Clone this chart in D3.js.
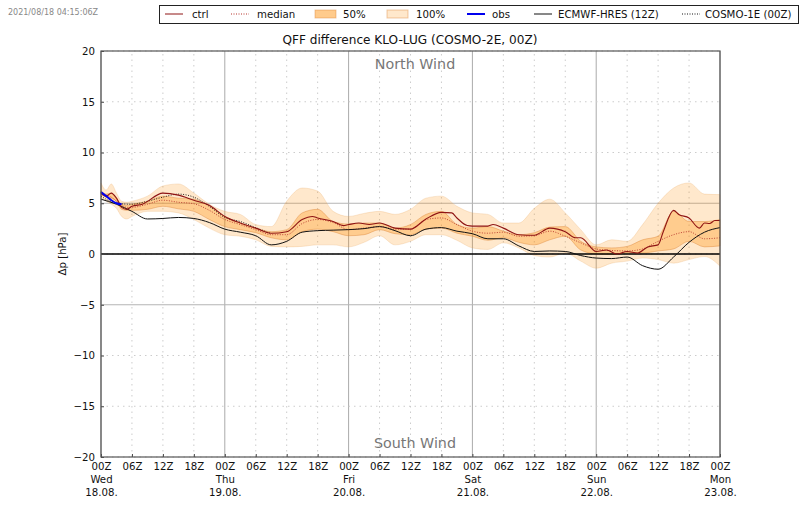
<!DOCTYPE html>
<html>
<head>
<meta charset="utf-8">
<script src="https://cdn.jsdelivr.net/npm/d3@7"></script>
<style>
  html,body{margin:0;padding:0;background:#fff;}
  svg{display:block;}
  text{font-family:"DejaVu Sans",sans-serif;fill:#111;}
</style>
</head>
<body>
<div id="chart"></div>
<script>
// forecast hours since 18.08. 00Z
var hours = [0,1,2,3,4,5,6,9,12,15,18,21,24,27,30,33,36,39,42,45,48,51,54,57,60,63,66,69,72,75,78,81,84,87,90,93,96,99,102,105,108,111,114,117,120];
var upper100 = [7.0,6.3,6.9,6.0,5.2,5.1,5.2,5.7,6.7,6.9,6.0,4.9,4.2,3.9,2.9,2.7,5.2,6.5,6.2,4.2,3.7,4.0,4.2,3.9,4.4,5.5,5.7,4.7,4.05,3.9,3.05,3.05,4.5,5.4,4.05,2.4,0.9,1.4,1.25,2.9,5.0,6.5,7.0,5.9,5.85];
var lower100 = [5.5,5.2,4.9,4.5,3.7,3.45,3.7,4.2,4.2,4.05,3.4,2.55,1.9,1.75,1.4,0.75,0.7,0.75,0.9,0.9,0.7,1.15,1.8,0.9,1.25,1.9,1.9,1.35,0.6,0.45,1.1,0.6,-0.15,-0.3,0.1,-0.7,-1.4,-0.9,-0.7,-0.4,-0.55,-0.9,-0.55,-0.25,-1.2];
var upper50 = [6.2,5.9,6.0,5.5,4.9,4.8,4.9,5.2,5.7,5.5,5.4,4.7,3.7,3.05,2.55,2.2,2.4,4.05,4.4,3.2,2.95,3.05,3.05,2.55,2.9,3.9,4.2,2.9,2.55,2.7,2.25,1.9,2.1,2.65,2.7,1.25,0.7,0.6,0.75,1.4,1.75,4.2,3.2,3.2,3.4];
var lower50 = [5.85,5.6,5.5,5.2,4.4,4.3,4.3,4.4,4.7,4.45,4.2,3.4,2.7,2.4,2.1,1.6,1.4,2.2,2.45,2.2,1.8,1.9,2.4,2.0,1.9,2.45,2.55,2.05,1.75,1.35,1.6,1.15,0.9,1.4,1.75,0.4,0.0,-0.05,0.1,0.1,0.3,0.5,1.25,0.7,0.8];
var median = [5.9,5.8,5.6,5.2,4.8,4.6,4.6,4.9,5.3,5.1,4.95,4.3,3.4,2.9,2.4,1.9,1.9,3.0,3.4,3.1,2.4,2.55,2.7,2.45,2.45,3.4,3.55,2.9,2.25,2.05,2.15,1.75,1.8,2.25,1.75,1.1,0.5,0.35,0.3,0.5,1.25,1.9,2.2,1.5,1.6];
var ctrlHours = [0,1,2,3,4,5,6,8,12,15,18,21,24,27,30,33,36,39,41,42,45,47,48,50,52,54,57,60,63,66,68,69,71,72,75,76,78,81,84,87,90,92,93,96,98,100,102,104,106,108,109,111,112,114,116,117,118,119,120];
var ctrl = [6.0,5.7,6.0,5.5,4.6,4.4,4.7,4.9,6.0,5.8,5.3,4.8,3.7,3.05,2.55,2.05,2.2,3.4,3.7,3.55,3.2,2.8,2.9,3.05,2.9,3.05,2.55,2.45,3.45,4.1,4.05,3.55,2.8,2.75,2.75,2.9,2.55,1.9,1.85,2.55,2.2,1.6,1.6,0.25,0.4,0,0.25,0.1,0.7,0.9,2.2,4.3,3.9,3.55,2.55,3.05,3.0,3.3,3.3];
var ecmwfHours = [0,3,6,9,12,15,18,21,24,27,30,33,36,39,42,45,48,51,54,57,60,63,66,69,72,75,78,81,84,87,90,93,96,99,102,105,108,111,114,117,120];
var ecmwf = [5.4,4.9,4.2,3.45,3.5,3.6,3.5,3.1,2.45,2.15,1.8,0.9,1.25,2.15,2.3,2.35,2.4,2.5,2.7,2.3,1.8,2.45,2.6,2.25,2.0,1.5,1.5,0.8,0.25,0.3,0.25,-0.15,-0.4,-0.45,-0.3,-1.15,-1.5,-0.3,1.15,2.15,2.6];
var cosmo1Hours = [0,3,6,9,12,15,18,21,24,27,30,33];
var cosmo1 = [5.7,5.0,4.9,5.2,5.6,5.9,5.6,4.7,3.6,3.2,2.6,2.0];
var obsHours = [0,1,2,3,4];
var obs = [6.1,5.7,5.3,5.0,4.9];

var hourTicks = [0,6,12,18,24,30,36,42,48,54,60,66,72,78,84,90,96,102,108,114,120];
var dayLabels = {0:["Wed","18.08."],24:["Thu","19.08."],48:["Fri","20.08."],72:["Sat","21.08."],96:["Sun","22.08."],120:["Mon","23.08."]};
var yTicks = [-20,-15,-10,-5,0,5,10,15,20];
var solidY = [-5,5];

var width = 800, height = 509;
var margin = {left:101, top:51, right:80, bottom:52};

var svg = d3.select("#chart").append("svg").attr("width",width).attr("height",height);
var x = d3.scaleLinear().domain([0,120]).range([margin.left,width-margin.right]);
var y = d3.scaleLinear().domain([-20,20]).range([height-margin.bottom,margin.top]);

// grid
var grid = svg.append("g");
grid.selectAll("line.v").data(hourTicks).enter().append("line")
  .attr("x1",function(d){return x(d);}).attr("x2",function(d){return x(d);})
  .attr("y1",y(-20)).attr("y2",y(20))
  .attr("stroke",function(d){return d%24==0?"#aaa":"#ccc";})
  .attr("stroke-width",1)
  .attr("stroke-dasharray",function(d){return d%24==0?null:"1.5,4";});
grid.selectAll("line.h").data(yTicks).enter().append("line")
  .attr("x1",x(0)).attr("x2",x(120))
  .attr("y1",function(d){return y(d);}).attr("y2",function(d){return y(d);})
  .attr("stroke",function(d){return solidY.indexOf(d)>=0?"#b5b5b5":"#ccc";})
  .attr("stroke-width",1)
  .attr("stroke-dasharray",function(d){return solidY.indexOf(d)>=0?null:"1.5,4";});

// bands
function band(up,low){
  return d3.area().curve(d3.curveMonotoneX).x(function(d,i){return x(hours[i]);})
    .y0(function(d,i){return y(low[i]);})
    .y1(function(d,i){return y(up[i]);})(hours);
}
svg.append("path").attr("d",band(upper100,lower100))
  .attr("fill","#ff8c00").attr("fill-opacity",0.2).attr("stroke","#e8a860").attr("stroke-opacity",0.25);
svg.append("path").attr("d",band(upper50,lower50))
  .attr("fill","#ff8c00").attr("fill-opacity",0.3).attr("stroke","#d98030").attr("stroke-opacity",0.4);

// zero line
svg.append("line").attr("x1",x(0)).attr("x2",x(120)).attr("y1",y(0)).attr("y2",y(0))
  .attr("stroke","#000").attr("stroke-width",1.5);

// lines
function drawLine(xs,ys,color,w,dash){
  var line = d3.line().curve(d3.curveMonotoneX).x(function(d,i){return x(xs[i]);}).y(function(d){return y(d);});
  svg.append("path").attr("d",line(ys)).attr("fill","none")
    .attr("stroke",color).attr("stroke-width",w).attr("stroke-dasharray",dash||null);
}
drawLine(hours,median,"#b5332a",0.9,"1,1.5");
drawLine(ecmwfHours,ecmwf,"#111",1);
drawLine(cosmo1Hours,cosmo1,"#111",0.9,"1,1.5");
drawLine(ctrlHours,ctrl,"#8f1414",1.1);
drawLine(obsHours,obs,"#0000ee",2);

// axes
var yAxis = d3.axisLeft(y).tickValues(yTicks).tickSize(-3).tickPadding(6)
  .tickFormat(function(d){return d<0?"\u2212"+Math.abs(d):d;});
var gy = svg.append("g").attr("transform","translate("+margin.left+",0)").call(yAxis);
gy.select(".domain").remove();
gy.selectAll("text").attr("font-size",10.2);
gy.selectAll("line").attr("stroke","#444");

var xAxis = d3.axisBottom(x).tickValues(hourTicks).tickSize(-3).tickPadding(6)
  .tickFormat(function(d){return d3.format("02")(d%24)+"Z";});
var gx = svg.append("g").attr("transform","translate(0,"+y(-20)+")").call(xAxis);
gx.select(".domain").remove();
gx.selectAll("line").attr("stroke","#444");
gx.selectAll("text").attr("font-size",10.2).attr("fill","#111")
  .each(function(d){
    var t = d3.select(this);
    var lab = dayLabels[d];
    if(lab){
      t.append("tspan").attr("x",0).attr("dy",13).text(lab[0]);
      t.append("tspan").attr("x",0).attr("dy",12.5).text(lab[1]);
    }
  });
svg.append("rect").attr("x",x(0)).attr("y",y(20)).attr("width",x(120)-x(0)).attr("height",y(-20)-y(20))
  .attr("fill","none").attr("stroke","#555").attr("stroke-width",1.2);

// labels
svg.append("text").attr("x",410).attr("y",44).attr("text-anchor","middle").attr("font-size",12.1).text("QFF difference KLO-LUG (COSMO-2E, 00Z)");
svg.append("text").attr("x",8).attr("y",15).attr("font-size",8).style("fill","#888").text("2021/08/18 04:15:06Z");
svg.append("text").attr("transform","translate(66,254) rotate(-90)").attr("text-anchor","middle").attr("font-size",10.2).text("\u0394p [hPa]");
svg.append("text").attr("x",415).attr("y",69).attr("text-anchor","middle").attr("font-size",14.3).style("fill","#777").text("North Wind");
svg.append("text").attr("x",415).attr("y",448).attr("text-anchor","middle").attr("font-size",14.3).style("fill","#777").text("South Wind");

// legend
var legendNames = ["ctrl","median","50%","100%","obs","ECMWF-HRES (12Z)","COSMO-1E (00Z)"];
var legendX = [165,231,315,387,467,534,682];
var legendTextX = [192,257,343,416,492,558,705];
var legendKind = ["line","dot","b50","b100","obs","line2","dot2"];
var lg = svg.append("g");
lg.append("rect").attr("x",159.5).attr("y",5.5).attr("width",639).attr("height",18)
  .attr("fill","#fff").attr("stroke","#222").attr("stroke-width",1);
legendNames.forEach(function(name,i){
  var k = legendKind[i], x0 = legendX[i];
  if(k=="b50"||k=="b100"){
    lg.append("rect").attr("x",x0).attr("y",10).attr("width",21).attr("height",8)
      .attr("fill","#ff8c00").attr("fill-opacity",k=="b50"?0.45:0.2)
      .attr("stroke","#d98030").attr("stroke-opacity",0.4);
  }else{
    var col = {line:"#8f1414",dot:"#b5332a",obs:"#0000ee",line2:"#111",dot2:"#111"}[k];
    lg.append("line").attr("x1",x0).attr("x2",x0+18).attr("y1",14).attr("y2",14)
      .attr("stroke",col).attr("stroke-width",k=="obs"?2:1)
      .attr("stroke-dasharray",(k=="dot"||k=="dot2")?"1,1.5":null);
  }
  lg.append("text").attr("x",legendTextX[i]).attr("y",18).attr("font-size",10.2).text(name);
});
</script>
</body>
</html>
